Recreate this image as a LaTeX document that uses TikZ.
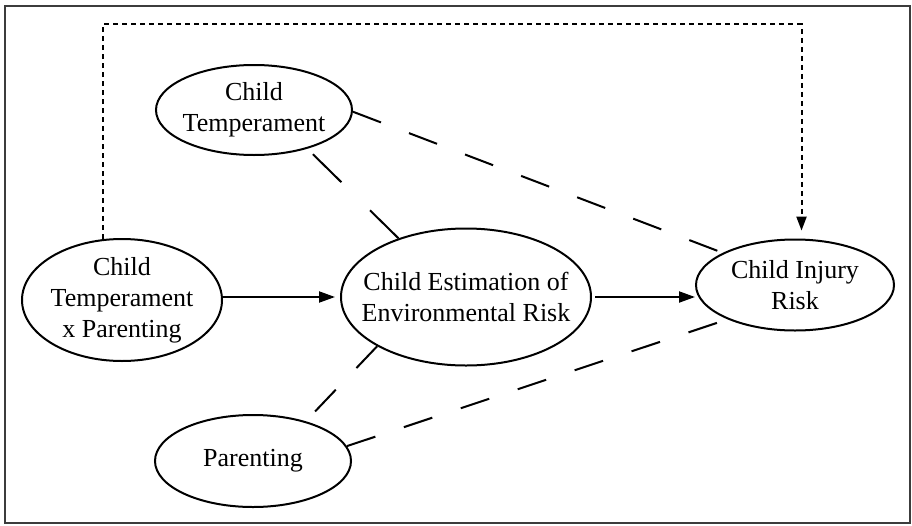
\documentclass[tikz,border=0pt]{standalone}
\usepackage{fontspec}
\setmainfont{Liberation Serif}
\usepackage{tikz}
\usetikzlibrary{shapes.geometric, arrows.meta, calc}
\definecolor{framegray}{RGB}{60,60,60}
\tikzset{every node/.append style={align=center}}
\tikzset{
  var/.style={ellipse, draw=black, line width=2pt, inner xsep=-20pt, inner ysep=-4pt,
    font=\fontsize{26}{31}\selectfont, align=center},
  arrow/.style={-{Triangle[length=16pt, width=11pt]}, line width=2pt},
  dotarrow/.style={-{Triangle[length=14pt, width=10pt]}, line width=2pt,
    dash pattern=on 5pt off 4pt, shorten >=8pt},
  link/.style={line width=2pt, dash pattern=on 30pt off 30pt},
  frame/.style={draw=framegray, line width=2pt}
}

\begin{document}
\begin{tikzpicture}[x=1pt, y=-1pt]
  \useasboundingbox (0,0) rectangle (912,525);
  \draw[frame] (5,6) rectangle (910,523);
  \node[var, minimum width=196pt, minimum height=90pt] (ct) at (254,110) {Child\\Temperament};
  \node[var, minimum width=200pt, minimum height=122pt] (txp) at (122,300) {Child\\Temperament\\x Parenting};
  \node[var, minimum width=250pt, minimum height=137pt] (ce) at (466,297) {Child Estimation of\\Environmental Risk};
  \node[var, minimum width=198pt, minimum height=91pt] (cir) at (795,285) {Child Injury\\Risk};
  \node[var, minimum width=196pt, minimum height=92pt] (par) at (253,461) {Parenting};
  \coordinate (toprail) at (450,24);
  \draw[arrow, shorten >=5pt] (txp.east |- ce.west) -- (ce.west);
  \draw[arrow, shorten <=3pt] (ce.east) -- (ce.east -| cir.west);
  \draw[dotarrow] (txp.107) |- (toprail) -| (cir.82);
  \draw[link] (ct.-1) -- (cir.156);
  \draw[link, dash pattern=on 40pt off 40pt] (ce.139) -- (ct.-36);
  \draw[link] (ce.-151) -- (par.37);
  \draw[link] (par.9) -- (cir.-153);
\end{tikzpicture}
\end{document}
